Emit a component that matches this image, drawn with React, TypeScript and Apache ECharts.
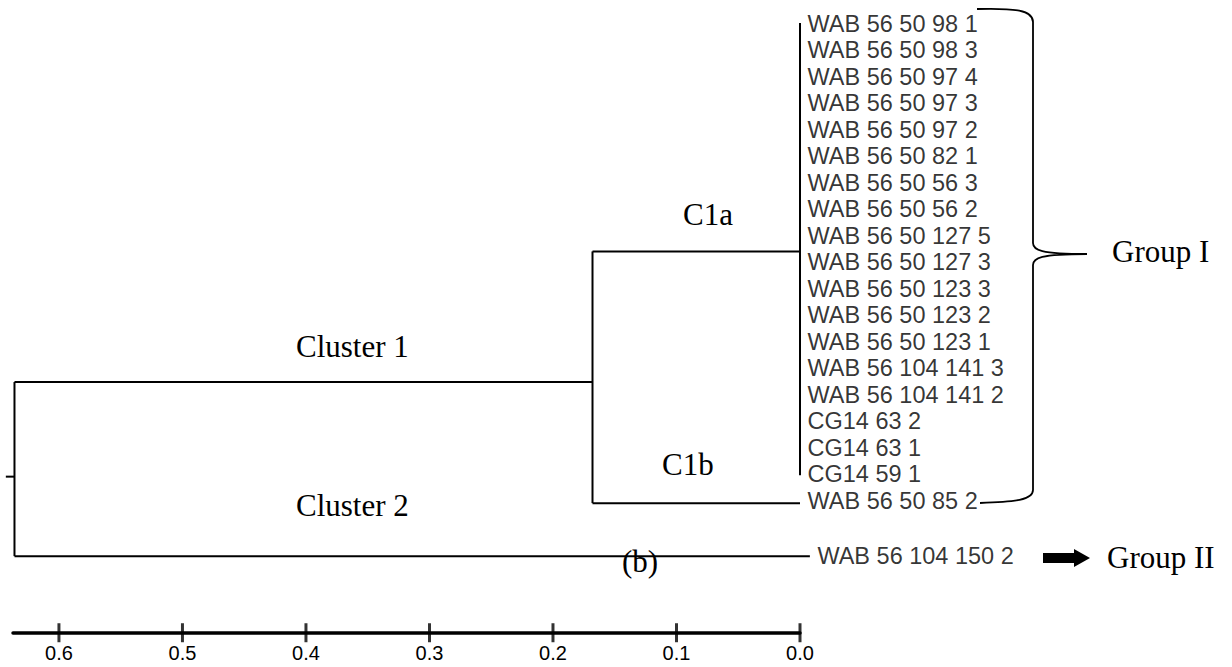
import React, { useEffect, useRef } from "react";
import * as echarts from "echarts";

// ---- data ----
const leafNames = [
  "WAB 56 50 98 1",
  "WAB 56 50 98 3",
  "WAB 56 50 97 4",
  "WAB 56 50 97 3",
  "WAB 56 50 97 2",
  "WAB 56 50 82 1",
  "WAB 56 50 56 3",
  "WAB 56 50 56 2",
  "WAB 56 50 127 5",
  "WAB 56 50 127 3",
  "WAB 56 50 123 3",
  "WAB 56 50 123 2",
  "WAB 56 50 123 1",
  "WAB 56 104 141 3",
  "WAB 56 104 141 2",
  "CG14 63 2",
  "CG14 63 1",
  "CG14 59 1",
  "WAB 56 50 85 2",
  "WAB 56 104 150 2",
];
const leafRows = [0, 1, 2, 3, 4, 5, 6, 7, 8, 9, 10, 11, 12, 13, 14, 15, 16, 17, 18, 20.1];
const leafDist = [0, 0, 0, 0, 0, 0, 0, 0, 0, 0, 0, 0, 0, 0, 0, 0, 0, 0, 0, -0.008];

// node heights (distance) and rows
const nodeDist = { c1a: 0, c1: 0.168, root: 0.636, stub: 0.643 };
const nodeRow = { c1aTop: -0.02, c1aBottom: 17.05, c1a: 8.6, c1b: 18.1, cluster1: 13.53, cluster2: 20.1, rootMid: 17.1 };

const tickValues = [0, 0.1, 0.2, 0.3, 0.4, 0.5, 0.6];
const axisMax = 0.6372;

const segments: number[][][] = [
  [[nodeDist.c1a, nodeRow.c1aTop], [nodeDist.c1a, nodeRow.c1aBottom]],
  [[nodeDist.c1a, nodeRow.c1a], [nodeDist.c1, nodeRow.c1a]],
  [[0, nodeRow.c1b], [nodeDist.c1, nodeRow.c1b]],
  [[nodeDist.c1, nodeRow.c1a], [nodeDist.c1, nodeRow.c1b]],
  [[nodeDist.c1, nodeRow.cluster1], [nodeDist.root, nodeRow.cluster1]],
  [[nodeDist.root, nodeRow.cluster1], [nodeDist.root, nodeRow.cluster2]],
  [[nodeDist.root, nodeRow.cluster2], [leafDist[19], nodeRow.cluster2]],
  [[nodeDist.root, nodeRow.rootMid], [nodeDist.stub, nodeRow.rootMid]],
];

const bracePath =
  "M977,9 C1015,8 1033,10 1033,22 L1033,243 C1033,250 1040,254 1087,254 C1040,254 1033,258 1033,265 L1033,490 C1033,500 1015,502 980,503";

let registered = false;
function registerShapes() {
  if (registered) return;
  registered = true;
  echarts.graphic.registerShape("brace", echarts.graphic.extendPath(bracePath, {}));
}

const SERIF = "'Liberation Serif', 'Times New Roman', serif";
const SANS = "'Liberation Sans', Arial, sans-serif";

function serifText(text: string, x: number, y: number, align = "left") {
  return {
    type: "text",
    x,
    y,
    style: { text, fontSize: 31, fontFamily: SERIF, fill: "#000", align, verticalAlign: "middle" },
  };
}

export default function App() {
  const ref = useRef<HTMLDivElement>(null);
  useEffect(() => {
    if (!ref.current) return;
    registerShapes();
    const chart = echarts.init(ref.current, null, { renderer: "svg" });
    const option: any = {
      animation: false,
      backgroundColor: "#fff",
      grid: { left: 13, right: 432, top: 0, bottom: 34, containLabel: false },
      xAxis: {
        type: "value",
        position: "bottom",
        inverse: true,
        min: 0,
        max: axisMax,
        interval: 0.1,
        splitLine: { show: false },
        axisTick: { show: false },
        axisLine: { show: true, onZero: false, lineStyle: { color: "#000", width: 3.5 } },
        axisLabel: {
          show: true,
          showMaxLabel: false,
          margin: 10,
          fontSize: 20,
          fontFamily: SANS,
          color: "#000",
          formatter: (v: number) => {
            const k = Math.round(v * 10);
            return Math.abs(v * 10 - k) < 1e-6 && k <= 6 ? (k / 10).toFixed(1) : "";
          },
        },
      },
      yAxis: {
        type: "value",
        inverse: true,
        min: -0.8868,
        max: 23.0,
        show: false,
        splitLine: { show: false },
      },
      series: [
        {
          type: "lines",
          coordinateSystem: "cartesian2d",
          polyline: true,
          clip: false,
          silent: true,
          lineStyle: { color: "#000", width: 2, opacity: 1, curveness: 0 },
          data: segments.map((s) => ({ coords: s })),
        },
        {
          type: "scatter",
          clip: false,
          silent: true,
          symbolSize: 1,
          itemStyle: { color: "rgba(0,0,0,0)" },
          label: {
            show: true,
            position: "right",
            distance: 7,
            fontSize: 23.5,
            fontFamily: SANS,
            color: "#000",
            formatter: (p: any) => p.name,
          },
          data: leafNames.map((n, i) => ({ name: n, value: [leafDist[i], leafRows[i]] })),
        },
        {
          type: "scatter",
          clip: false,
          silent: true,
          symbol: "rect",
          symbolSize: [3, 19],
          itemStyle: { color: "#000" },
          data: tickValues.map((v) => [v, 22.99]),
        },
      ],
      graphic: [
        serifText("Cluster 1", 296, 346),
        serifText("Cluster 2", 296, 505),
        serifText("C1a", 683, 214),
        serifText("C1b", 662, 464),
        serifText("(b)", 640, 561, "center"),
        serifText("Group I", 1112, 251),
        serifText("Group II", 1107, 557),
        {
          type: "brace",
          x: 0,
          y: 0,
          scaleX: 1,
          scaleY: 1,
          style: { fill: "none", stroke: "#000", lineWidth: 1.8 },
        },
        {
          type: "polygon",
          shape: {
            points: [
              [1043, 553],
              [1074, 553],
              [1074, 549],
              [1090, 558],
              [1074, 567],
              [1074, 563],
              [1043, 563],
            ],
          },
          style: { fill: "#000" },
        },
      ],
    };
    chart.setOption(option);
    return () => chart.dispose();
  }, []);
  return (
    <div
      ref={ref}
      style={{ position: "absolute", left: 0, top: 0, width: 1232, height: 667, background: "#fff" }}
    />
  );
}
